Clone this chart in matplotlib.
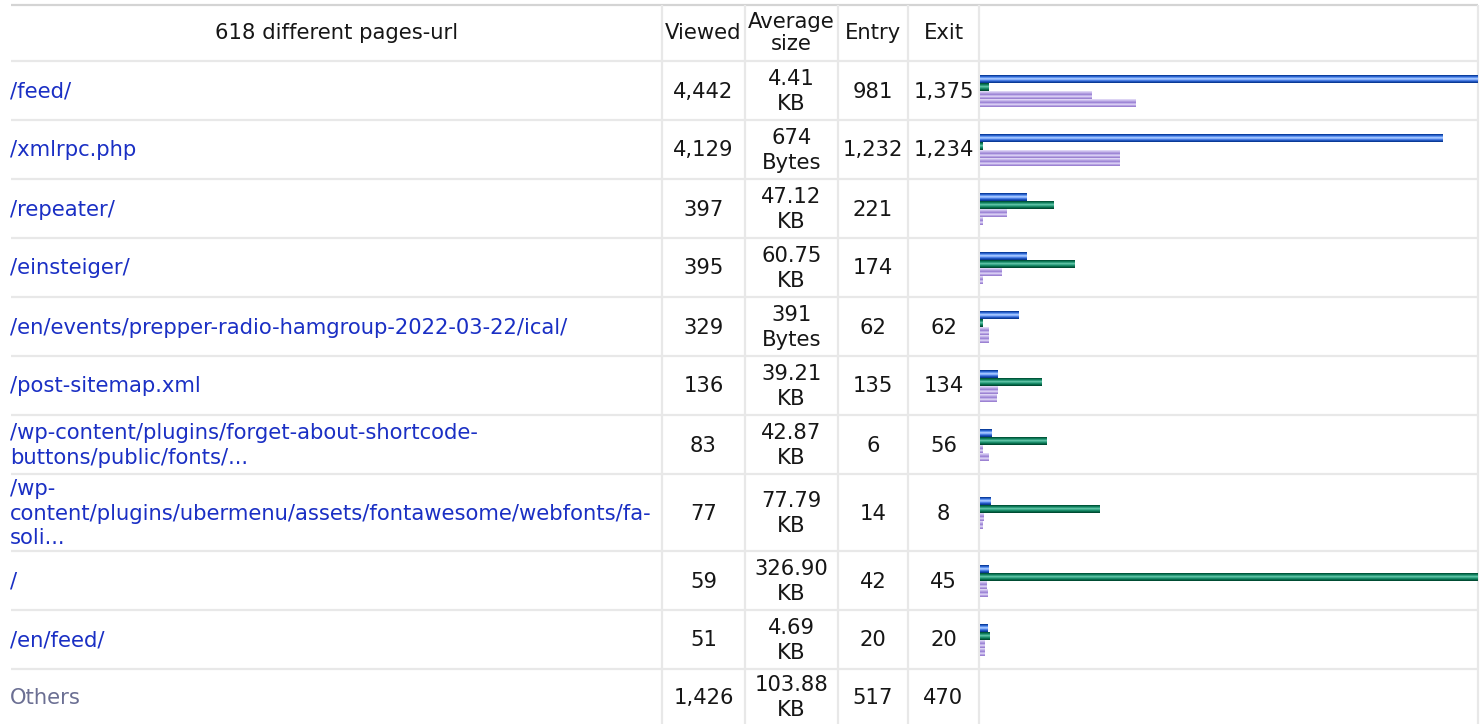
import matplotlib
matplotlib.use("Agg")
import matplotlib.pyplot as plt

# ── data ──────────────────────────────────────────────────────────────────
header_title = "618 different pages-url"
urls = [
    "/feed/",
    "/xmlrpc.php",
    "/repeater/",
    "/einsteiger/",
    "/en/events/prepper-radio-hamgroup-2022-03-22/ical/",
    "/post-sitemap.xml",
    "/wp-content/plugins/forget-about-shortcode-\nbuttons/public/fonts/...",
    "/wp-\ncontent/plugins/ubermenu/assets/fontawesome/webfonts/fa-\nsoli...",
    "/",
    "/en/feed/",
]
viewed = [4442, 4129, 397, 395, 329, 136, 83, 77, 59, 51]
size_kb = [4.41, 674 / 1024, 47.12, 60.75, 391 / 1024, 39.21, 42.87, 77.79, 326.90, 4.69]
size_labels = ["4.41\nKB", "674\nBytes", "47.12\nKB", "60.75\nKB", "391\nBytes",
               "39.21\nKB", "42.87\nKB", "77.79\nKB", "326.90\nKB", "4.69\nKB"]
entry = [981, 1232, 221, 174, 62, 135, 6, 14, 42, 20]
exits = [1375, 1234, 0, 0, 62, 134, 56, 8, 45, 20]

others_label = "Others"
others_viewed = 1426
others_size = "103.88\nKB"
others_entry = 517
others_exit = 470

# ── layout (pixels) ───────────────────────────────────────────────────────
W, H = 1482, 724
row_edges = [5, 61, 120, 179, 238, 297, 356, 415, 474, 551, 610, 669, 724]
col_edges = [11, 662, 745, 838, 908, 979, 1478]
BAR_LEFT, BAR_RIGHT = 979.5, 1478
BAR_H = 8
MIN_PX = 3

FONT = 15.2
LS = 1.26
LINK = "#1a2fc4"
TXT = "#161616"
GRID = "#e8e8e8"

blue = ["#0b3e9e", "#2c62cc", "#6094ee", "#a2c4ff", "#88b0fa", "#4a7de2", "#2054bc", "#0a3a96"]
green = ["#00563a", "#0f7a58", "#2f9d7d", "#5cc0a2", "#3caa8a", "#1a8a68", "#076a4a", "#004c33"]
purple = ["#ddd4f4", "#c8b9ec", "#b09cde", "#9e86d6", "#c2b2ea", "#d8cdf2", "#b6a2e2", "#9c82d2"]


def fmt(v):
    return f"{v:,}" if v else ""


fig = plt.figure(figsize=(W / 100, H / 100), dpi=100)
fig.patch.set_facecolor("white")

ax = fig.add_axes([0, 0, 1, 1])
ax.set_xlim(0, W)
ax.set_ylim(H, 0)
ax.axis("off")

# grid lines
for i, y in enumerate(row_edges[:-1]):
    ax.plot([col_edges[0], col_edges[-1]], [y, y],
            color="#d4d4d4" if i == 0 else GRID, lw=1.6, solid_capstyle="butt")
for x in col_edges[1:]:
    ax.plot([x, x], [row_edges[0], H], color=GRID, lw=1.6, solid_capstyle="butt")

centers = [(a + b) / 2 for a, b in zip(row_edges[:-1], row_edges[1:])]
col_c = [(a + b) / 2 for a, b in zip(col_edges[:-1], col_edges[1:])]

# header
hy = centers[0]
ax.text(col_c[0], hy, header_title, ha="center", va="center", fontsize=FONT, color=TXT)
ax.text(col_c[1], hy, "Viewed", ha="center", va="center", fontsize=FONT, color=TXT)
ax.text(col_c[2], hy, "Average\nsize", ha="center", va="center", fontsize=FONT,
        color=TXT, linespacing=1.15)
ax.text(col_c[3], hy, "Entry", ha="center", va="center", fontsize=FONT, color=TXT)
ax.text(col_c[4], hy, "Exit", ha="center", va="center", fontsize=FONT, color=TXT)

# body rows
for i, url in enumerate(urls):
    cy = centers[i + 1] + 1
    ax.text(col_edges[0] - 1, cy, url, ha="left", va="center", fontsize=FONT,
            color=LINK, linespacing=LS)
    ax.text(col_c[1], cy, fmt(viewed[i]), ha="center", va="center", fontsize=FONT, color=TXT)
    ax.text(col_c[2], cy, size_labels[i], ha="center", va="center", fontsize=FONT,
            color=TXT, linespacing=LS)
    ax.text(col_c[3], cy, fmt(entry[i]), ha="center", va="center", fontsize=FONT, color=TXT)
    ax.text(col_c[4], cy, fmt(exits[i]), ha="center", va="center", fontsize=FONT, color=TXT)

cy = centers[-1] + 1
ax.text(col_edges[0] - 1, cy, others_label, ha="left", va="center", fontsize=FONT, color="#6b6f93")
ax.text(col_c[1], cy, fmt(others_viewed), ha="center", va="center", fontsize=FONT, color=TXT)
ax.text(col_c[2], cy, others_size, ha="center", va="center", fontsize=FONT, color=TXT, linespacing=LS)
ax.text(col_c[3], cy, fmt(others_entry), ha="center", va="center", fontsize=FONT, color=TXT)
ax.text(col_c[4], cy, fmt(others_exit), ha="center", va="center", fontsize=FONT, color=TXT)

# ── bars: viewed / entry / exit share a scale, size has its own ───────────
bw = BAR_RIGHT - BAR_LEFT
axb = fig.add_axes([BAR_LEFT / W, 0, bw / W, 1])
axb.patch.set_alpha(0)
axb.set_ylim(H, 0)
vmax = max(viewed)
pad_v = vmax * MIN_PX / (bw - MIN_PX)
axb.set_xlim(-pad_v, vmax)
axb.axis("off")

axs = axb.twiny()
axs.patch.set_alpha(0)
smax = max(size_kb)
pad_s = smax * MIN_PX / (bw - MIN_PX)
axs.set_xlim(-pad_s, smax)
axs.set_ylim(H, 0)
axs.axis("off")


def striped(a, y_top, value, pad, colors):
    n = len(colors)
    sh = BAR_H / n
    for k, c in enumerate(colors):
        a.barh(y_top + sh * (k + 0.5), value + pad, left=-pad, height=sh * 1.15,
               color=c, linewidth=0, align="center")


for i in range(len(urls)):
    top = centers[i + 1] + 0.5 - 2 * BAR_H
    striped(axb, top, viewed[i], pad_v, blue)
    striped(axs, top + BAR_H, size_kb[i], pad_s, green)
    striped(axb, top + 2 * BAR_H, entry[i], pad_v, purple)
    striped(axb, top + 3 * BAR_H, exits[i], pad_v, purple)

fig.savefig("out.png", dpi=100, facecolor="white")
